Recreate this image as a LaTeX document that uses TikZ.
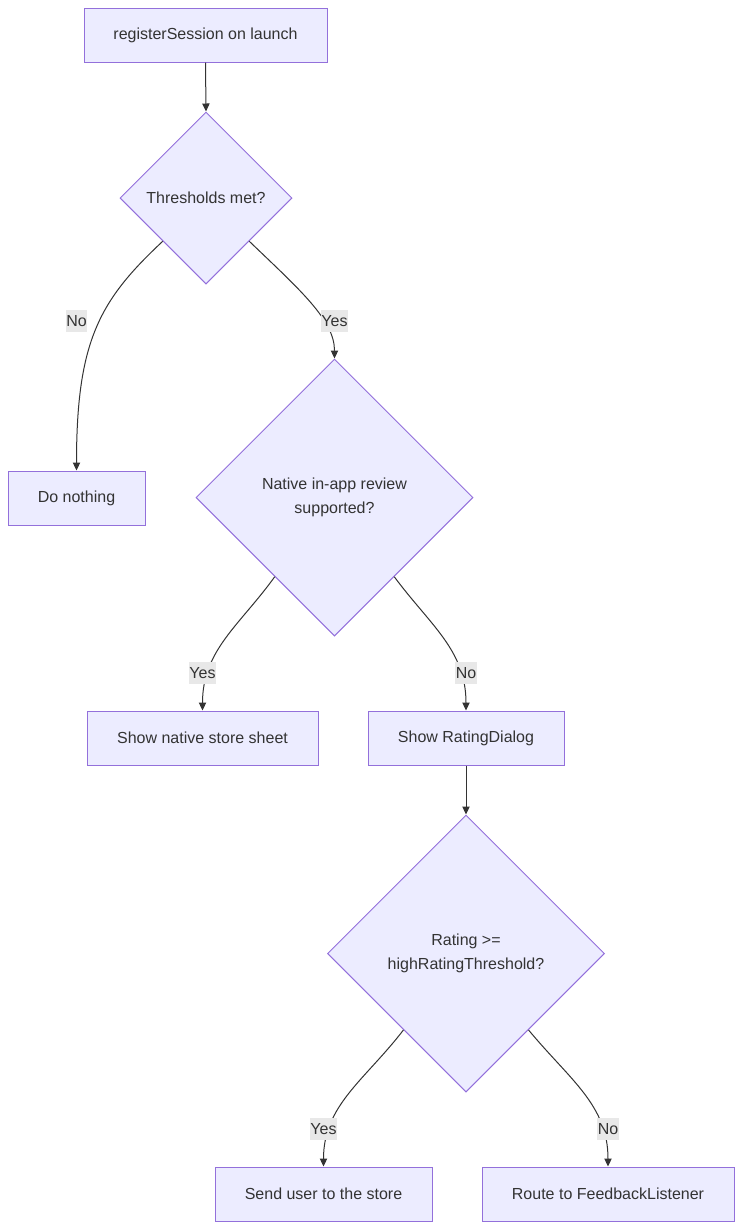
\documentclass[tikz,border=0pt]{standalone}
\usepackage{fontspec}
\setmainfont{Liberation Sans}
\usetikzlibrary{shapes.geometric,arrows.meta,calc}
\definecolor{nodefill}{HTML}{ECECFF}
\definecolor{nodestroke}{HTML}{9370DB}
\definecolor{txt}{HTML}{333333}
\definecolor{edgecol}{HTML}{333333}
\definecolor{lblbg}{HTML}{E8E8E8}
\tikzset{
  box/.style={draw=nodestroke, fill=nodefill, line width=0.75pt, text=txt,
    minimum height=54*0.75pt, inner sep=0pt, font=\fontsize{12}{18}\selectfont},
  dia/.style={diamond, draw=nodestroke, fill=nodefill, line width=0.75pt, text=txt,
    inner sep=0pt, align=center, font=\fontsize{12}{18}\selectfont},
  edge/.style={draw=edgecol, line width=0.75pt, -{Triangle[length=6pt,width=5.5pt]}},
  lbl/.style={fill=lblbg, text=txt, inner xsep=0.5pt, inner ysep=0pt,
    minimum height=22*0.75pt, font=\fontsize{12}{18}\selectfont}
}
\begin{document}
\begin{tikzpicture}[x=0.75pt,y=-0.75pt]
\useasboundingbox (0,0) rectangle (743,1229);
% nodes
\node[box, minimum width=243*0.75pt] (A) at (205.5,35) {registerSession on launch};
\node[dia, minimum width=172*0.75pt, minimum height=172*0.75pt] (B) at (206,198) {Thresholds met?};
\node[box, minimum width=137*0.75pt] (C) at (76.5,498) {Do nothing};
\node[dia, minimum width=277*0.75pt, minimum height=277*0.75pt] (D) at (334.5,497.5) {Native in-app review\\supported?};
\node[box, minimum width=231*0.75pt] (E) at (202.5,738) {Show native store sheet};
\node[box, minimum width=196*0.75pt] (F) at (466,738) {Show RatingDialog};
\node[dia, minimum width=277*0.75pt, minimum height=277*0.75pt] (G) at (466,953.5) {Rating >=\\highRatingThreshold?};
\node[box, minimum width=217*0.75pt] (H) at (323.5,1194) {Send user to the store};
\node[box, minimum width=252*0.75pt] (I) at (608,1194) {Route to FeedbackListener};
% edges
\draw[edge] (A.south) -- (B.north);
\draw[edge] (B.south west) .. controls (100,300) and (76.5,340) .. (C.north);
\draw[edge] (B.south east) .. controls (300,290) and (334.5,320) .. (D.north);
\draw[edge] ($(D.west)!0.57!(D.south)$) .. controls (240,625) and (202.5,650) .. (E.north);
\draw[edge] ($(D.east)!0.57!(D.south)$) .. controls (430,625) and (466,650) .. (F.north);
\draw[edge] (F.south) -- (G.north);
\draw[edge] ($(G.west)!0.55!(G.south)$) .. controls (365,1080) and (323.5,1105) .. (H.north);
\draw[edge] ($(G.east)!0.55!(G.south)$) .. controls (570,1080) and (608,1105) .. (I.north);
% labels
\node[lbl] (l1) at (76.5,321) {No};
\node[lbl] (l2) at (334.5,321) {Yes};
\node[lbl] (l3) at (202.5,673) {Yes};
\node[lbl] (l4) at (466,673) {No};
\node[lbl] (l5) at (323.5,1129) {Yes};
\node[lbl] (l6) at (608,1129) {No};
\end{tikzpicture}
\end{document}
